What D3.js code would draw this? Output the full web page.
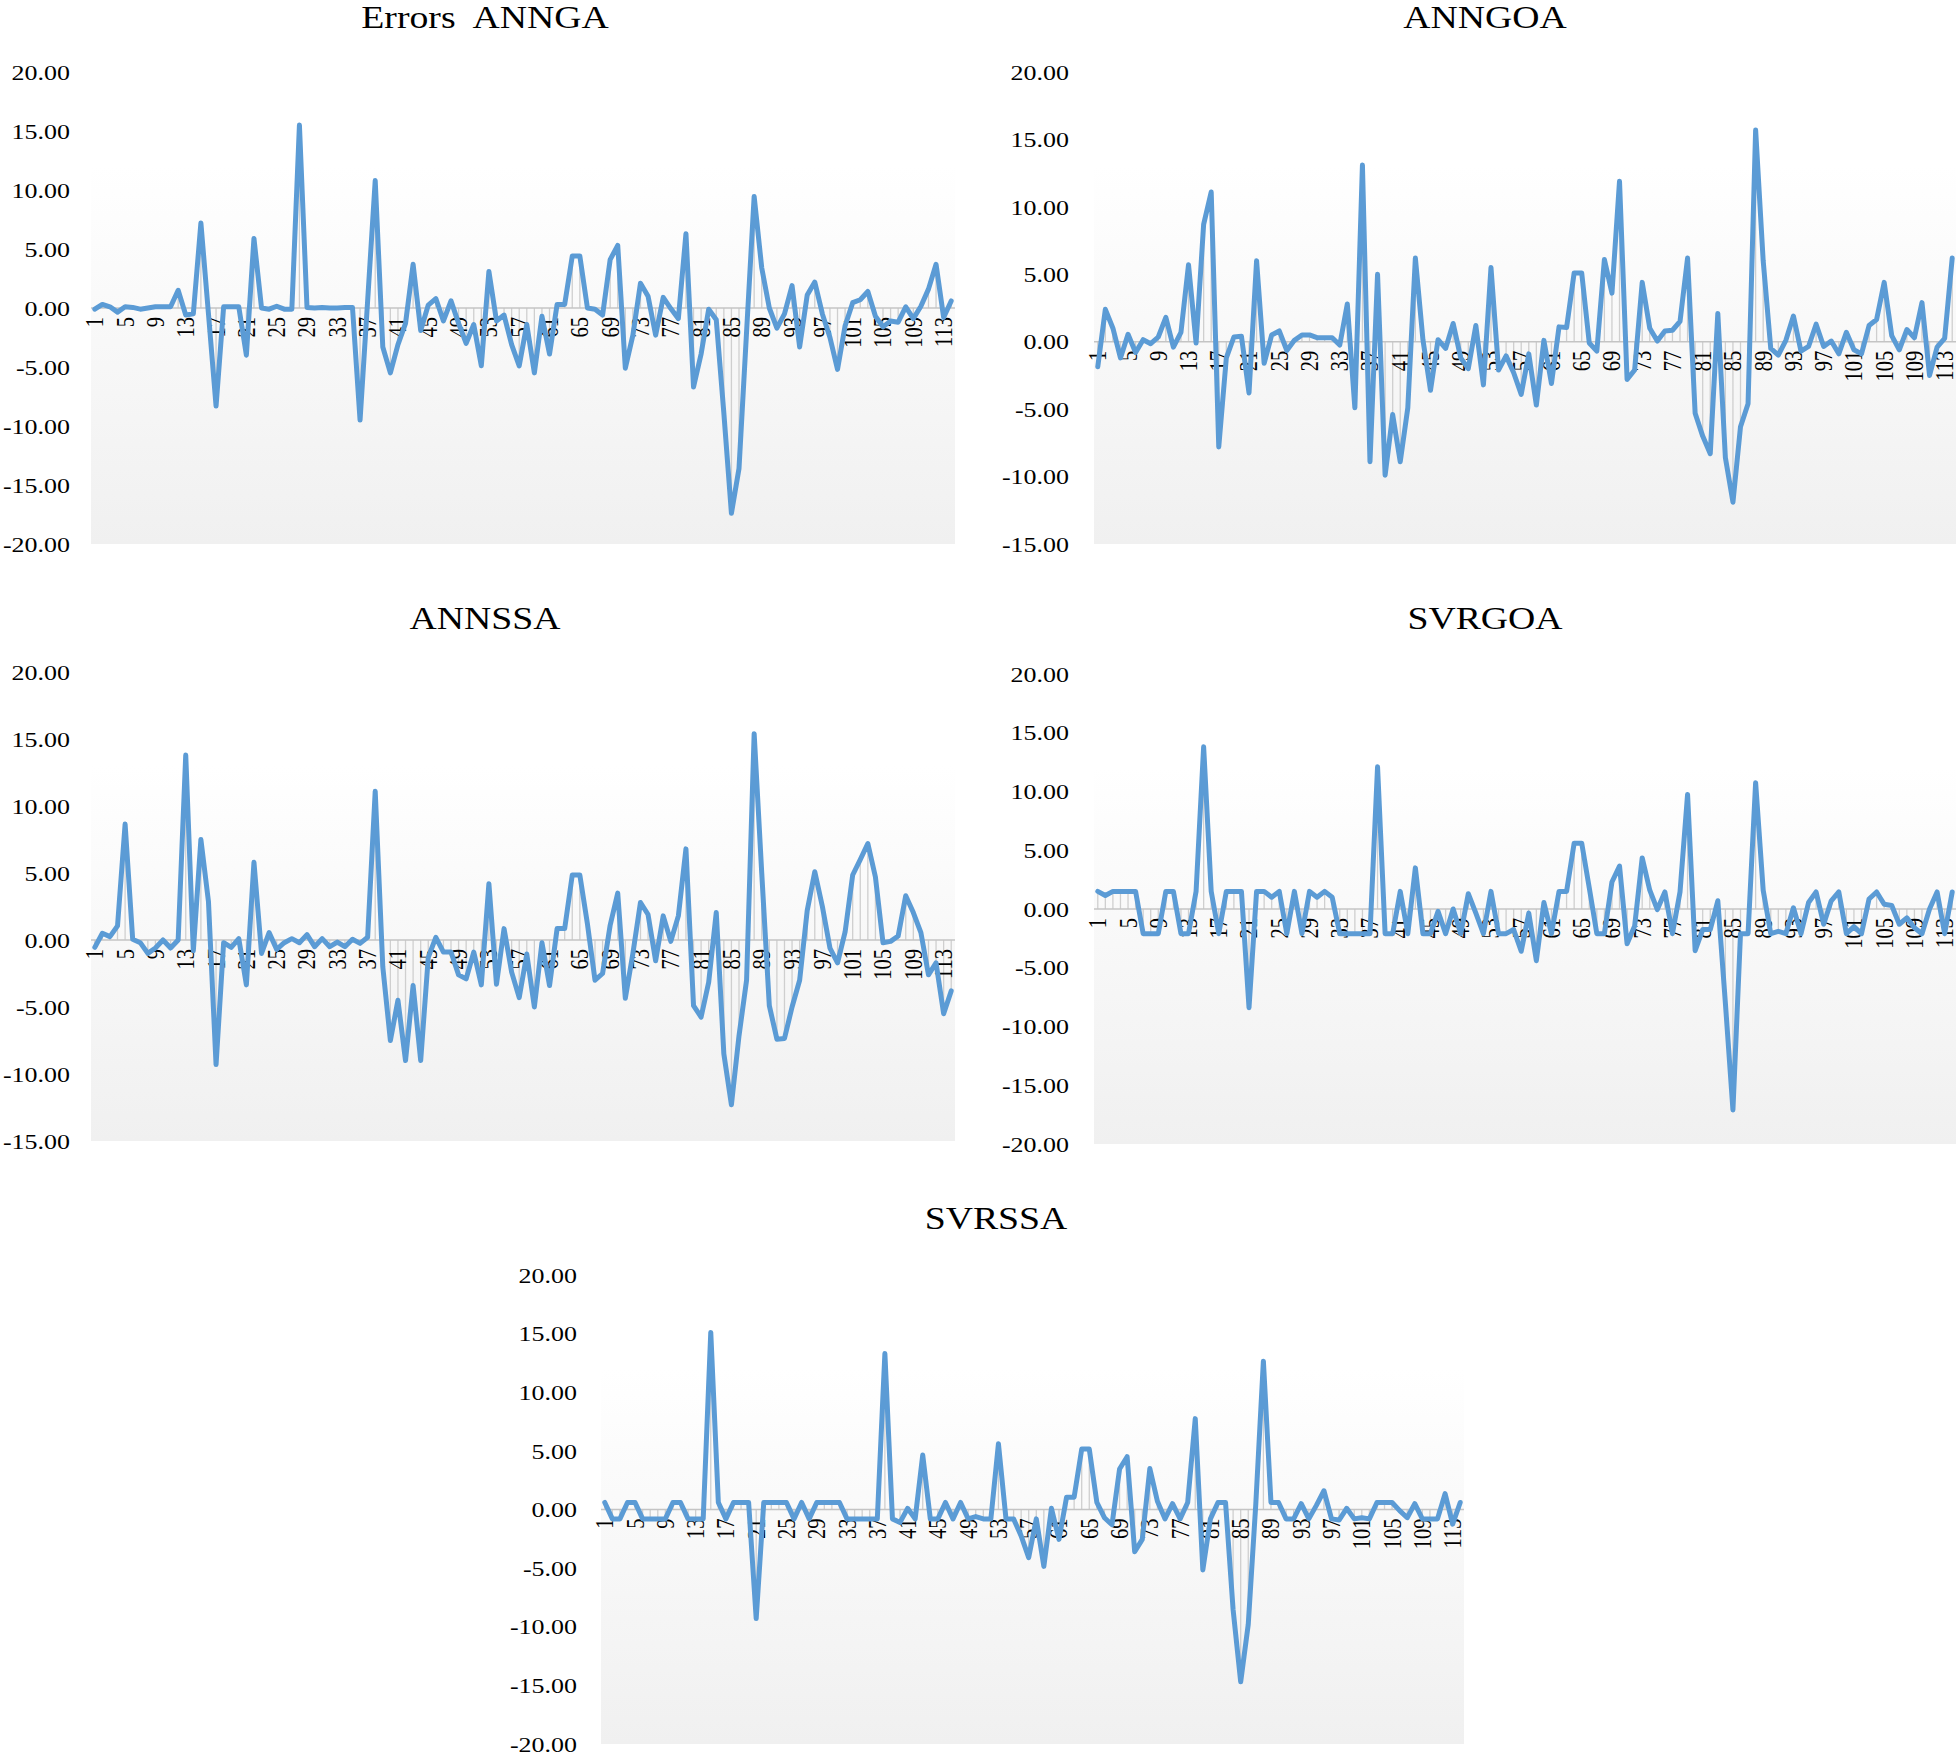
<!DOCTYPE html>
<html>
<head>
<meta charset="utf-8">
<script src="https://cdnjs.cloudflare.com/ajax/libs/d3/7.8.5/d3.min.js"></script>
<style>
body { margin: 0; background: #fff; }
svg text { font-family: "Liberation Serif", "Times New Roman", serif; fill: #000; }
</style>
</head>
<body>
<svg id="chart"></svg>
<script>
var width = 1960,
    height = 1756
var stretch = 1.18   // the source figure is a bit wider than tall

var categories = d3.range(1, 115)
var xTickLabels = [1, 5, 9, 13, 17, 21, 25, 29, 33, 37, 41, 45, 49, 53, 57, 61, 65, 69, 73, 77, 81, 85, 89, 93, 97, 101, 105, 109, 113]
var titles = ["Errors  ANNGA", "ANNGOA", "ANNSSA", "SVRGOA", "SVRSSA"]
var yTicks20 = [20, 15, 10, 5, 0, -5, -10, -15, -20]
var yTicks15 = [20, 15, 10, 5, 0, -5, -10, -15]

var annga = [-0.1, 0.3, 0.1, -0.35, 0.1, 0.05, -0.1, 0, 0.1, 0.1,
    0.1, 1.5, -0.6, -0.5, 7.2, -0.5, -8.3, 0.1, 0.1, 0.1,
    -4.0, 5.9, 0, -0.1, 0.15, -0.1, -0.1, 15.5, 0.05, 0,
    0.05, 0, 0, 0.05, 0.05, -9.5, 0.6, 10.8, -3.3, -5.5,
    -3.1, -1.3, 3.7, -1.9, 0.25, 0.8, -1.1, 0.6, -1.3, -3.0,
    -1.4, -4.9, 3.1, -1.1, -0.6, -3.1, -4.9, -1.4, -5.5, -0.7,
    -3.9, 0.3, 0.3, 4.4, 4.4, 0, -0.1, -0.6, 4.1, 5.3,
    -5.1, -2.3, 2.1, 1.0, -2.3, 0.9, -0.05, -0.9, 6.3, -6.7,
    -3.9, -0.1, -1.0, -8.9, -17.4, -13.6, -2.0, 9.45, 3.4, 0,
    -1.7, -0.5, 1.9, -3.3, 1.1, 2.2, -0.5, -2.5, -5.2, -1.5,
    0.45, 0.7, 1.4, -0.7, -1.6, -1.1, -1.2, 0.1, -0.9, 0.15,
    1.6, 3.7, -0.8, 0.6]

var anngoa = [-1.85, 2.4, 1.0, -1.2, 0.55, -0.8, 0.15, -0.15, 0.35, 1.8,
    -0.4, 0.7, 5.7, -0.1, 8.7, 11.1, -7.8, -1.2, 0.35, 0.4,
    -3.8, 6.0, -1.6, 0.5, 0.8, -0.65, 0.1, 0.5, 0.5, 0.3,
    0.3, 0.3, -0.25, 2.8, -4.9, 13.1, -8.9, 5.0, -9.9, -5.4,
    -8.9, -4.9, 6.2, 0.15, -3.6, 0.15, -0.5, 1.35, -1.2, -2.0,
    1.2, -3.2, 5.5, -2.1, -1.05, -2.3, -3.9, -0.9, -4.7, 0.1,
    -3.1, 1.1, 1.05, 5.1, 5.1, -0.1, -0.7, 6.1, 3.6, 11.9,
    -2.8, -2.1, 4.4, 1.0, 0.05, 0.8, 0.85, 1.5, 6.2, -5.3,
    -7.0, -8.3, 2.1, -8.6, -11.9, -6.3, -4.6, 15.7, 6.0, -0.5,
    -1.0, 0.1, 1.9, -0.7, -0.35, 1.3, -0.35, 0.05, -0.9, 0.7,
    -0.6, -0.9, 1.2, 1.65, 4.4, 0.45, -0.6, 0.9, 0.3, 2.9,
    -2.5, -0.4, 0.25, 6.2]

var annssa = [-0.55, 0.5, 0.25, 1.05, 8.65, 0.05, -0.2, -1.0, -0.6, 0,
    -0.6, 0, 13.8, -0.8, 7.5, 2.85, -9.3, -0.2, -0.55, 0.1,
    -3.35, 5.8, -1.0, 0.55, -0.7, -0.2, 0.1, -0.2, 0.4, -0.5,
    0.1, -0.5, -0.15, -0.5, 0.05, -0.25, 0.2, 11.1, -2.0, -7.5,
    -4.5, -9.0, -3.4, -9.0, -1.3, 0.2, -0.9, -0.9, -2.6, -2.9,
    -0.9, -3.35, 4.2, -3.3, 0.85, -2.4, -4.3, -1.05, -5.0, -0.2,
    -3.4, 0.85, 0.85, 4.85, 4.85, 1.2, -3.0, -2.5, 1.1, 3.5,
    -4.35, -1.0, 2.8, 1.9, -1.55, 1.8, -0.1, 1.8, 6.8, -4.9,
    -5.75, -3.15, 2.05, -8.5, -12.3, -7.15, -3.0, 15.4, 5.0, -4.9,
    -7.4, -7.35, -5.0, -3.0, 2.2, 5.1, 2.5, -0.6, -1.7, 0.6,
    4.85, 6.0, 7.2, 4.7, -0.2, -0.1, 0.3, 3.3, 2.05, 0.55,
    -2.6, -1.7, -5.5, -3.8]

var svrgoa = [1.5, 1.15, 1.5, 1.5, 1.5, 1.5, -2.1, -2.1, -2.1, 1.5,
    1.5, -2.1, -2.1, 1.5, 13.8, 1.5, -2.1, 1.5, 1.5, 1.5,
    -8.4, 1.5, 1.5, 1.0, 1.5, -2.1, 1.5, -2.1, 1.5, 1.0,
    1.5, 1.0, -2.1, -2.1, -2.1, -2.1, -2.1, 12.1, -2.1, -2.1,
    1.5, -2.1, 3.5, -2.1, -2.1, -0.2, -2.1, 0, -2.1, 1.3,
    -0.35, -2.1, 1.5, -2.1, -2.1, -1.75, -3.6, -0.35, -4.4, 0.55,
    -2.1, 1.5, 1.5, 5.6, 5.6, 1.8, -2.1, -2.1, 2.3, 3.65,
    -2.95, -1.45, 4.35, 1.6, -0.05, 1.45, -2.1, 1.45, 9.75, -3.55,
    -1.75, -1.75, 0.7, -8.0, -17.1, -2.1, -2.1, 10.75, 1.6, -2.1,
    -1.9, -2.1, 0.1, -2.1, 0.55, 1.45, -1.3, 0.7, 1.45, -2.1,
    -1.5, -2.1, 0.85, 1.45, 0.4, 0.3, -1.3, -0.75, -1.6, -2.1,
    0, 1.45, -2.1, 1.45]

var svrssa = [0.6, -0.8, -0.8, 0.6, 0.6, -0.8, -0.8, -0.8, -0.8, 0.6,
    0.6, -0.8, -0.8, -0.8, 15.1, 0.6, -0.8, 0.6, 0.6, 0.6,
    -9.3, 0.6, 0.6, 0.6, 0.6, -0.8, 0.6, -0.8, 0.6, 0.6,
    0.6, 0.6, -0.8, -0.8, -0.8, -0.8, -0.8, 13.3, -0.8, -1.1,
    0.1, -0.8, 4.65, -0.8, -0.8, 0.6, -0.8, 0.6, -0.8, -0.6,
    -0.8, -0.8, 5.6, -0.8, -0.8, -2.25, -4.1, -0.8, -4.85, 0.1,
    -2.55, 1.05, 1.05, 5.15, 5.15, 0.6, -0.7, -1.3, 3.45, 4.5,
    -3.6, -2.55, 3.5, 0.7, -0.8, 0.5, -0.8, 0.6, 7.75, -5.15,
    -0.8, 0.6, 0.6, -8.55, -14.7, -9.8, 0.5, 12.65, 0.6, 0.6,
    -0.8, -0.8, 0.5, -0.8, 0.35, 1.6, -0.8, -0.9, 0.1, -0.8,
    -0.7, -0.8, 0.6, 0.6, 0.6, -0.1, -0.7, 0.5, -0.8, -0.8,
    -0.8, 1.35, -1.25, 0.6]

// where each small chart sits on the page
var panels = [
    {title: titles[0], values: annga,  ticks: yTicks20, left: 91,   right: 955,  top: 72,   bottom: 544,  labelX: 70,   titleX: 485, titleY: 28},
    {title: titles[1], values: anngoa, ticks: yTicks15, left: 1094, right: 1956, top: 72,   bottom: 544,  labelX: 1069, titleX: 1485, titleY: 28},
    {title: titles[2], values: annssa, ticks: yTicks15, left: 91,   right: 955,  top: 672,  bottom: 1141, labelX: 70,   titleX: 485, titleY: 629},
    {title: titles[3], values: svrgoa, ticks: yTicks20, left: 1094, right: 1956, top: 674,  bottom: 1144, labelX: 1069, titleX: 1485, titleY: 629},
    {title: titles[4], values: svrssa, ticks: yTicks20, left: 601,  right: 1464, top: 1275, bottom: 1744, labelX: 577,  titleX: 996, titleY: 1229}
]

var svg = d3.select("#chart")
    .attr("width", width)
    .attr("height", height)

svg.append("rect").attr("width", width).attr("height", height).attr("fill", "#fff")

var grad = svg.append("defs").append("linearGradient")
    .attr("id", "plotbg")
    .attr("x1", 0).attr("y1", 0).attr("x2", 0).attr("y2", 1)
grad.append("stop").attr("offset", "0%").attr("stop-color", "#ffffff")
grad.append("stop").attr("offset", "20%").attr("stop-color", "#ffffff")
grad.append("stop").attr("offset", "100%").attr("stop-color", "#f0f0f0")

panels.forEach(drawPanel)

function drawPanel(p) {
    var g = svg.append("g")

    var x = d3.scaleBand()
        .domain(categories)
        .range([p.left, p.right])
    var y = d3.scaleLinear()
        .domain(d3.extent(p.ticks))
        .range([p.bottom, p.top])
    var cx = function(c) { return x(c) + x.bandwidth() / 2 }
    var y0 = y(0)

    g.append("rect")
        .attr("x", p.left)
        .attr("y", p.top)
        .attr("width", p.right - p.left)
        .attr("height", p.bottom - p.top)
        .attr("fill", "url(#plotbg)")

    // thin drop lines from the zero axis to each point
    g.selectAll(".drop")
        .data(p.values)
        .enter()
        .append("line")
        .attr("class", "drop")
        .attr("x1", function(d, i) { return cx(categories[i]) })
        .attr("x2", function(d, i) { return cx(categories[i]) })
        .attr("y1", y0)
        .attr("y2", function(d) { return y(d) })
        .attr("stroke", "#cfcfcf")
        .attr("stroke-width", 1.3)

    g.append("line")
        .attr("x1", p.left).attr("x2", p.right)
        .attr("y1", y0).attr("y2", y0)
        .attr("stroke", "#c4c4c4")
        .attr("stroke-width", 1.6)

    // y tick labels
    g.selectAll(".ylab")
        .data(p.ticks)
        .enter()
        .append("text")
        .attr("class", "ylab")
        .attr("transform", function(d) { return "translate(" + p.labelX + "," + y(d) + ") scale(" + stretch + ",1)" })
        .attr("dy", "0.35em")
        .attr("text-anchor", "end")
        .style("font-size", "22px")
        .text(function(d) { return d.toFixed(2) })

    // category labels, rotated
    g.selectAll(".xlab")
        .data(xTickLabels)
        .enter()
        .append("text")
        .attr("class", "xlab")
        .attr("transform", function(d) { return "translate(" + cx(d) + "," + (y0 + 9) + ") scale(" + stretch + ",1) rotate(-90)" })
        .attr("dy", "0.35em")
        .attr("text-anchor", "end")
        .style("font-size", "20.5px")
        .text(function(d) { return d })

    var line = d3.line()
        .x(function(d, i) { return cx(categories[i]) })
        .y(function(d) { return y(d) })

    g.append("path")
        .datum(p.values)
        .attr("d", line)
        .attr("fill", "none")
        .attr("stroke", "#5b9bd5")
        .attr("stroke-width", 5)
        .attr("stroke-linejoin", "round")
        .attr("stroke-linecap", "round")

    g.append("text")
        .attr("transform", "translate(" + p.titleX + "," + p.titleY + ") scale(" + stretch + ",1)")
        .attr("text-anchor", "middle")
        .style("font-size", "32px")
        .style("white-space", "pre")
        .text(p.title)
}
</script>
</body>
</html>
